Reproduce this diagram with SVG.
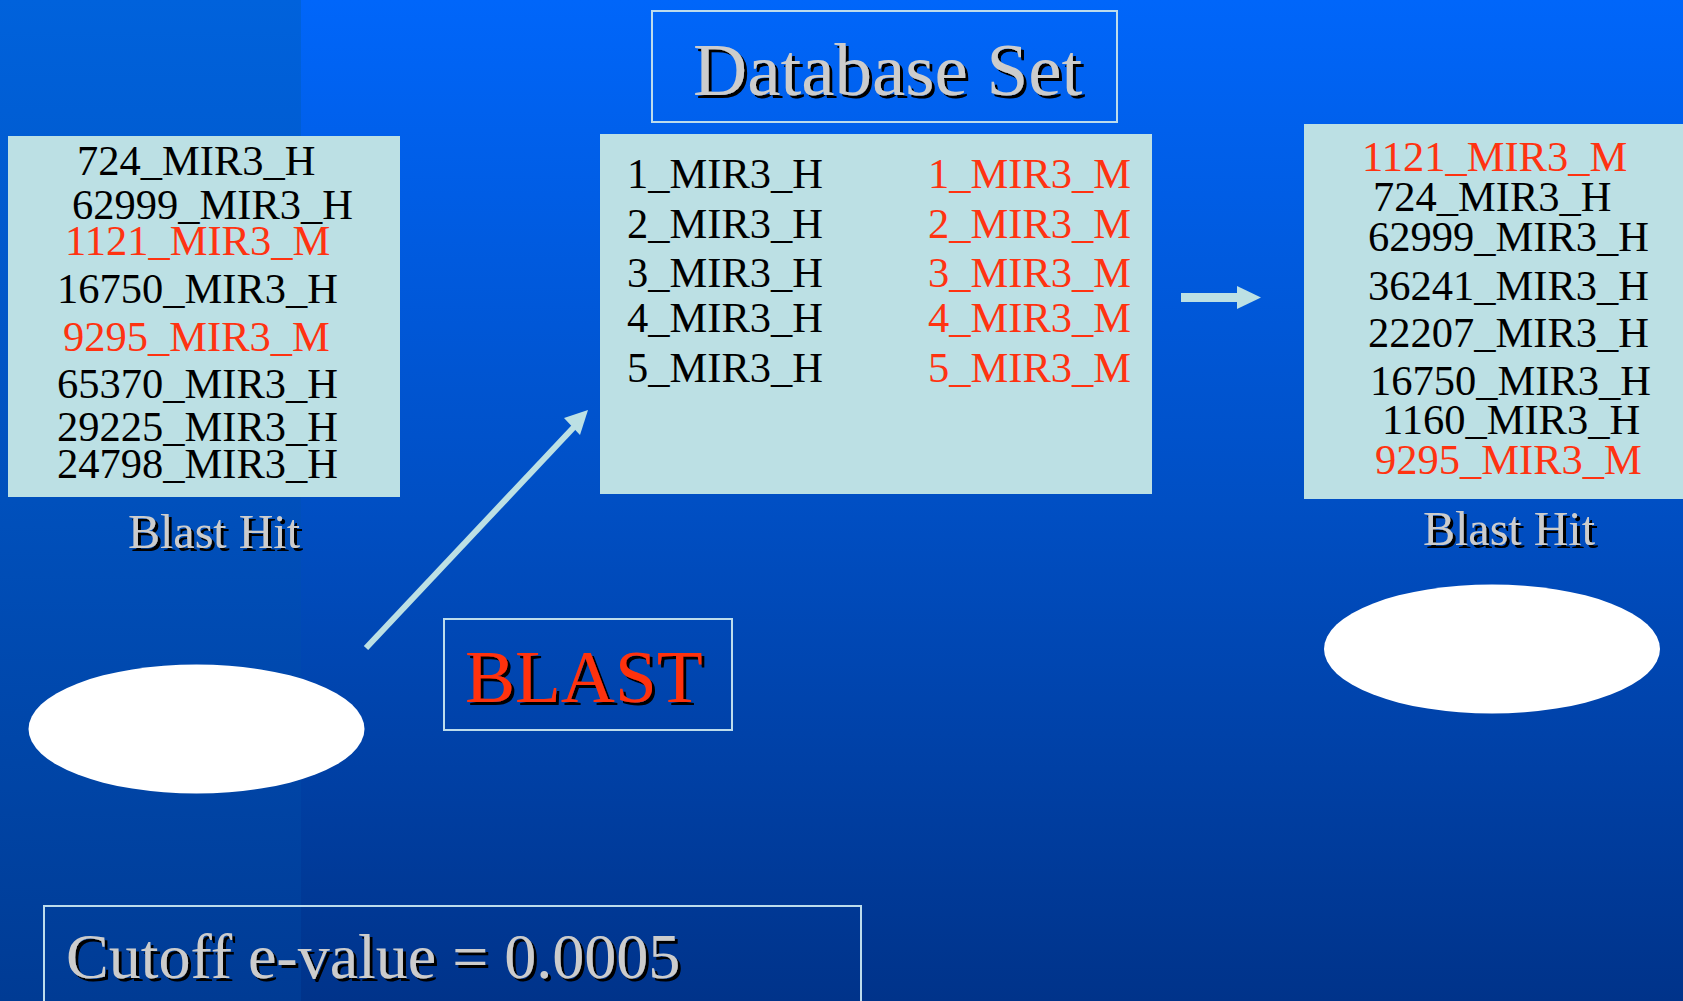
<svg xmlns="http://www.w3.org/2000/svg" width="1683" height="1001" viewBox="0 0 1683 1001">
  <defs>
    <linearGradient id="bgMain" x1="0" y1="0" x2="0" y2="1">
      <stop offset="0" stop-color="#0066fa"/>
      <stop offset="0.5" stop-color="#004fc4"/>
      <stop offset="1" stop-color="#00338a"/>
    </linearGradient>
    <linearGradient id="bgBand" x1="0" y1="0" x2="0" y2="1">
      <stop offset="0" stop-color="#0062dc"/>
      <stop offset="0.5" stop-color="#0050bc"/>
      <stop offset="1" stop-color="#003b94"/>
    </linearGradient>
    <filter id="shadow" x="-5%" y="-20%" width="115%" height="150%">
      <feFlood flood-color="#000000" result="ink"/>
      <feComposite in="ink" in2="SourceAlpha" operator="in" result="mask"/>
      <feOffset in="mask" dx="2.5" dy="2.5" result="off"/>
      <feMerge>
        <feMergeNode in="off"/>
        <feMergeNode in="SourceGraphic"/>
      </feMerge>
    </filter>
  </defs>
  <style>
    text { font-family: "Liberation Serif", "Times New Roman", serif; }
    .list { font-size: 42.5px; fill: #000000; }
    .red { fill: #ff3311; }
    .panel { fill: #bce0e4; }
    .frame { fill: none; stroke: #bcdcec; stroke-width: 2; }
    .title { fill: #cccccc; filter: url(#shadow); }
    .caption { font-size: 48px; }
    .oval { fill: #ffffff; }
    .arrow { fill: #bce0e4; }
  </style>

  <!-- background -->
  <rect x="0" y="0" width="1683" height="1001" fill="url(#bgMain)"/>
  <rect x="0" y="0" width="301" height="1001" fill="url(#bgBand)"/>

  <!-- left hit list -->
  <g id="hits-left">
    <rect class="panel" x="8" y="136" width="392" height="361"/>
    <text class="list" x="77" y="175">724_MIR3_H</text>
    <text class="list" x="72" y="219">62999_MIR3_H</text>
    <text class="list red" x="65" y="255">1121_MIR3_M</text>
    <text class="list" x="57" y="303">16750_MIR3_H</text>
    <text class="list red" x="63" y="351">9295_MIR3_M</text>
    <text class="list" x="57" y="398">65370_MIR3_H</text>
    <text class="list" x="57" y="441">29225_MIR3_H</text>
    <text class="list" x="57" y="478">24798_MIR3_H</text>
    <text class="title caption" x="128" y="548">Blast Hit</text>
  </g>

  <!-- database title -->
  <g id="db-title">
    <rect class="frame" x="652" y="11" width="465" height="111"/>
    <text class="title" x="693" y="95" font-size="75">Database Set</text>
  </g>

  <!-- database entries -->
  <g id="db-set">
    <rect class="panel" x="600" y="134" width="552" height="360"/>
    <text class="list" x="627" y="188">1_MIR3_H</text>
    <text class="list" x="627" y="238">2_MIR3_H</text>
    <text class="list" x="627" y="287">3_MIR3_H</text>
    <text class="list" x="627" y="332">4_MIR3_H</text>
    <text class="list" x="627" y="382">5_MIR3_H</text>
    <text class="list red" x="928" y="188">1_MIR3_M</text>
    <text class="list red" x="928" y="238">2_MIR3_M</text>
    <text class="list red" x="928" y="287">3_MIR3_M</text>
    <text class="list red" x="928" y="332">4_MIR3_M</text>
    <text class="list red" x="928" y="382">5_MIR3_M</text>
  </g>

  <!-- right hit list -->
  <g id="hits-right">
    <rect class="panel" x="1304" y="124" width="400" height="375"/>
    <text class="list red" x="1362" y="171">1121_MIR3_M</text>
    <text class="list" x="1373" y="211">724_MIR3_H</text>
    <text class="list" x="1368" y="251">62999_MIR3_H</text>
    <text class="list" x="1368" y="300">36241_MIR3_H</text>
    <text class="list" x="1368" y="347">22207_MIR3_H</text>
    <text class="list" x="1370" y="395">16750_MIR3_H</text>
    <text class="list" x="1382" y="434">1160_MIR3_H</text>
    <text class="list red" x="1375" y="474">9295_MIR3_M</text>
    <text class="title caption" x="1423" y="545">Blast Hit</text>
  </g>

  <!-- BLAST label -->
  <g id="blast">
    <rect class="frame" x="444" y="619" width="288" height="111"/>
    <text x="465" y="702" font-size="75" fill="#ff3311" filter="url(#shadow)">BLAST</text>
  </g>

  <!-- query ovals -->
  <g id="query-left">
    <ellipse class="oval" cx="196.5" cy="729" rx="168" ry="64.5"/>
  </g>
  <g id="query-right">
    <ellipse class="oval" cx="1492" cy="649" rx="168" ry="64.5"/>
  </g>

  <!-- cutoff note -->
  <g id="cutoff">
    <rect class="frame" x="44" y="906" width="817" height="130"/>
    <text class="title" x="66" y="978" font-size="64">Cutoff e-value = 0.0005</text>
  </g>

  <!-- connectors -->
  <g id="connectors">
    <line x1="366" y1="648" x2="574" y2="427" stroke="#bce0e4" stroke-width="6"/>
    <polygon class="arrow" points="588,410 580,435 564,418"/>
    <rect class="arrow" x="1181" y="293" width="57" height="9"/>
    <polygon class="arrow" points="1237,286 1261,297.5 1237,309"/>
  </g>
</svg>
